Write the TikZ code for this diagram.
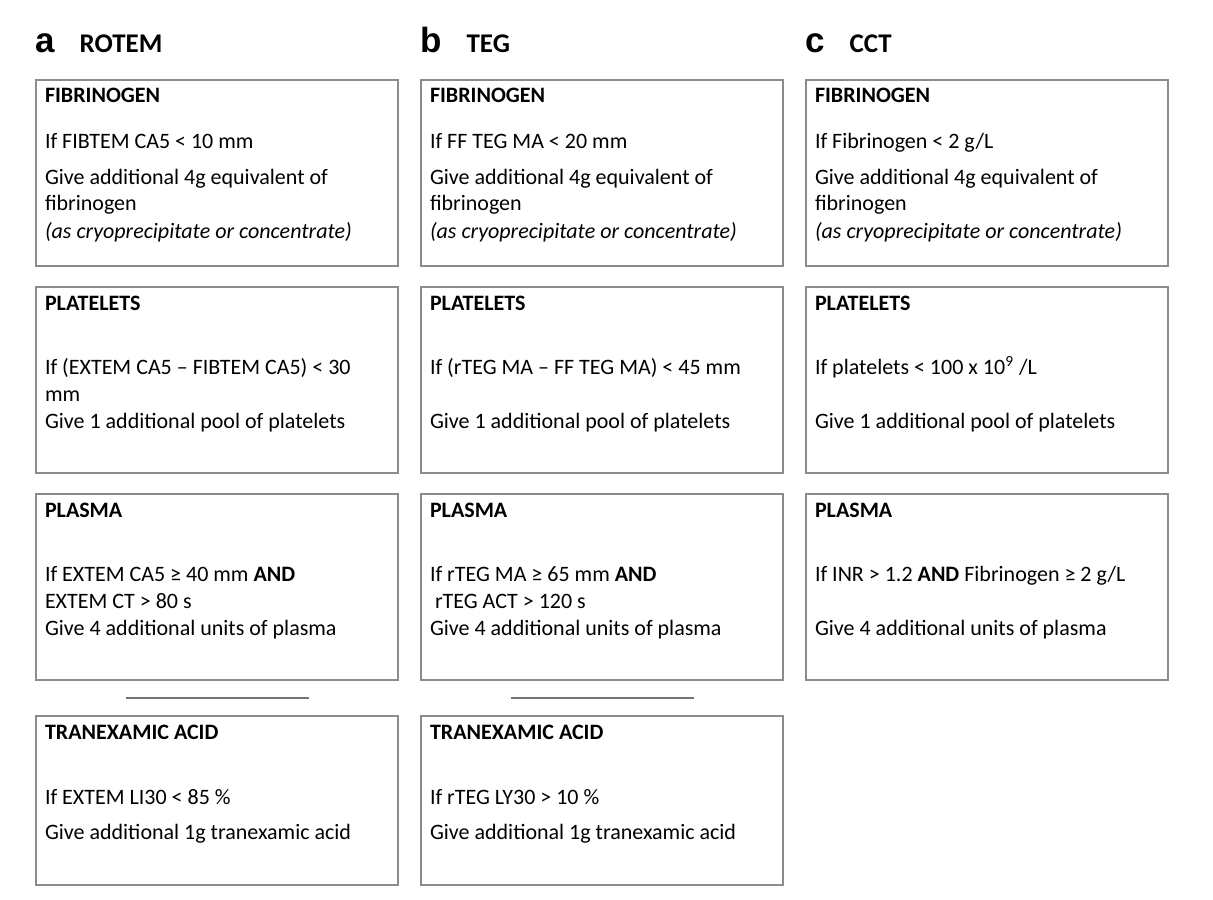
\documentclass[tikz,border=0pt]{standalone}
\usepackage{fontspec}
\setmainfont{Carlito}
\newfontfamily\panelfont{Liberation Sans}
\usepackage{tikz}
\usetikzlibrary{positioning}

\begin{document}
\begin{tikzpicture}[
        node distance=9.5pt and 10.5pt,
        box/.style={
            rectangle,
            draw=black!45,
            line width=1pt,
            text width=172pt,
            inner xsep=4.5pt,
            inner ysep=0pt,
            text height=11.5pt,
            text depth=81.5pt,
            align=flush left,
            font=\fontsize{11}{13.5}\selectfont
        },
        shortbox/.style={
            box,
            text depth=73pt
        },
        panel/.style={
            font=\panelfont\bfseries\fontsize{17.5}{17.5}\selectfont,
            inner sep=0pt
        },
        method/.style={
            font=\bfseries\fontsize{13.5}{13.5}\selectfont,
            inner sep=0pt
        },
        sepline/.style={
            draw=black!55,
            line width=1pt
        }
    ]
    \useasboundingbox (0,0) rectangle (606.5pt,-449.5pt);

    % Fibrinogen row
    \node[box, anchor=north west] (rotemfib) at (17.5pt,-39.5pt)
        {\textbf{FIBRINOGEN}\\[9.5pt]
        If FIBTEM CA5 < 10 mm\\[4pt]
        Give additional 4g equivalent of\\
        fibrinogen\\
        \textit{(as cryoprecipitate or concentrate)}};
    \node[box, right=of rotemfib] (tegfib)
        {\textbf{FIBRINOGEN}\\[9.5pt]
        If FF TEG MA < 20 mm\\[4pt]
        Give additional 4g equivalent of\\
        fibrinogen\\
        \textit{(as cryoprecipitate or concentrate)}};
    \node[box, right=of tegfib] (cctfib)
        {\textbf{FIBRINOGEN}\\[9.5pt]
        If Fibrinogen < 2 g/L\\[4pt]
        Give additional 4g equivalent of\\
        fibrinogen\\
        \textit{(as cryoprecipitate or concentrate)}};

    % Panel titles
    \node[panel, above=13pt of rotemfib.north west, anchor=base west] (laba) {a};
    \node[method, base right=12pt of laba] (rotem) {ROTEM};
    \node[panel, above=13pt of tegfib.north west, anchor=base west] (labb) {b};
    \node[method, base right=12pt of labb] (teg) {TEG};
    \node[panel, above=13pt of cctfib.north west, anchor=base west] (labc) {c};
    \node[method, base right=12pt of labc] (cct) {CCT};

    % Platelets row
    \node[box, below=of rotemfib] (rotemplt)
        {\textbf{PLATELETS}\\[18.5pt]
        If (EXTEM CA5 – FIBTEM CA5) < 30\\
        mm\\
        Give 1 additional pool of platelets};
    \node[box, below=of tegfib] (tegplt)
        {\textbf{PLATELETS}\\[18.5pt]
        If (rTEG MA – FF TEG MA) < 45 mm\\[13.5pt]
        Give 1 additional pool of platelets};
    \node[box, below=of cctfib] (cctplt)
        {\textbf{PLATELETS}\\[18.5pt]
        If platelets < 100 x 10\textsuperscript{9} /L\\[13.5pt]
        Give 1 additional pool of platelets};

    % Plasma row
    \node[box, below=of rotemplt] (rotempla)
        {\textbf{PLASMA}\\[18.5pt]
        If EXTEM CA5 ≥ 40 mm \textbf{AND}\\
        EXTEM CT > 80 s\\
        Give 4 additional units of plasma};
    \node[box, below=of tegplt] (tegpla)
        {\textbf{PLASMA}\\[18.5pt]
        If rTEG MA ≥ 65 mm \textbf{AND}\\
        \hspace*{2.5pt}rTEG ACT > 120 s\\
        Give 4 additional units of plasma};
    \node[box, below=of cctplt] (cctpla)
        {\textbf{PLASMA}\\[18.5pt]
        If INR > 1.2 \textbf{AND} Fibrinogen ≥ 2 g/L\\[13.5pt]
        Give 4 additional units of plasma};

    % Tranexamic acid row (ROTEM and TEG only)
    \node[shortbox, below=17pt of rotempla] (rotemtxa)
        {\textbf{TRANEXAMIC ACID}\\[19pt]
        If EXTEM LI30 < 85 \%\\[4pt]
        Give additional 1g tranexamic acid};
    \node[shortbox, below=17pt of tegpla] (tegtxa)
        {\textbf{TRANEXAMIC ACID}\\[19pt]
        If rTEG LY30 > 10 \%\\[4pt]
        Give additional 1g tranexamic acid};

    % Separators
    \path (rotempla.south) -- (rotemtxa.north) coordinate[midway] (sepa);
    \path (tegpla.south) -- (tegtxa.north) coordinate[midway] (sepb);
    \draw[sepline] ([xshift=-45.75pt]sepa) -- ([xshift=45.75pt]sepa);
    \draw[sepline] ([xshift=-45.75pt]sepb) -- ([xshift=45.75pt]sepb);

\end{tikzpicture}
\end{document}
